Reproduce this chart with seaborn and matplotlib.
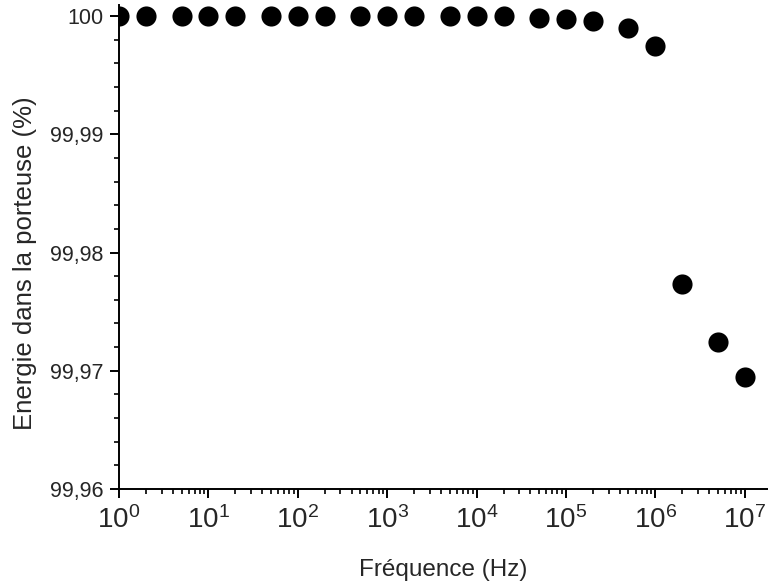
import numpy as np
import pandas as pd
import matplotlib
matplotlib.use('Agg')
import matplotlib.pyplot as plt
import matplotlib.ticker as mticker
import seaborn as sns

# Data
freq_hz = [1, 2, 5, 10, 20, 50, 100, 200, 500, 1e3, 2e3, 5e3,
           1e4, 2e4, 5e4, 1e5, 2e5, 5e5, 1e6, 2e6, 5e6, 1e7]
energy_pct = [100.0, 100.0, 100.0, 100.0, 100.0, 100.0, 100.0, 100.0,
              100.0, 100.0, 100.0, 100.0, 100.0, 100.0, 99.99980,
              99.99972, 99.99955, 99.99896, 99.99746, 99.97734,
              99.97243, 99.96945]

y_ticks = [99.96, 99.97, 99.98, 99.99, 100.0]
y_tick_labels = ['99,96', '99,97', '99,98', '99,99', '100']
x_decades = [0, 1, 2, 3, 4, 5, 6, 7]

df = pd.DataFrame({'freq': freq_hz, 'energy': energy_pct})

sns.set_style('ticks')
plt.rcParams['font.family'] = ['Liberation Sans', 'DejaVu Sans']

fig = plt.figure(figsize=(7.68, 5.88), dpi=100)
ax = fig.add_axes([0.155, 0.1684, 0.845, 0.823])

sns.scatterplot(data=df, x='freq', y='energy', ax=ax, color='black',
                s=210, edgecolor='black', linewidth=0, legend=False)

ax.set_xscale('log')
ax.set_xlim(1, 10 ** 7.26)
ax.set_ylim(99.96, 100.00093)

# x ticks: decades with mathtext labels, minor 2..9
ax.xaxis.set_major_locator(mticker.FixedLocator([10.0 ** d for d in x_decades]))
ax.xaxis.set_major_formatter(mticker.FixedFormatter(
    [r'$\mathregular{10^{%d}}$' % d for d in x_decades]))
ax.xaxis.set_minor_locator(mticker.LogLocator(base=10, subs=np.arange(2, 10), numticks=20))
ax.xaxis.set_minor_formatter(mticker.NullFormatter())

# y ticks with comma decimals
ax.yaxis.set_major_locator(mticker.FixedLocator(y_ticks))
ax.yaxis.set_major_formatter(mticker.FixedFormatter(y_tick_labels))
ax.yaxis.set_minor_locator(mticker.AutoMinorLocator(5))

ax.tick_params(axis='both', which='major', direction='out', length=6.5, width=1.4,
               color='black')
ax.tick_params(axis='both', which='minor', direction='out', length=3.8, width=1.2,
               color='black')
ax.tick_params(axis='x', which='major', labelsize=20, pad=6)
ax.tick_params(axis='y', which='major', labelsize=15.5, pad=5)

for side in ['top', 'right']:
    ax.spines[side].set_visible(False)
for side in ['left', 'bottom']:
    ax.spines[side].set_linewidth(1.4)
    ax.spines[side].set_color('black')

ax.set_xlabel('Fréquence (Hz)', fontsize=17.5, labelpad=18)
ax.set_ylabel('Energie dans la porteuse (%)', fontsize=18.5, labelpad=9)
ax.yaxis.label.set_y(0.467)

fig.savefig('out.png', dpi=100)
